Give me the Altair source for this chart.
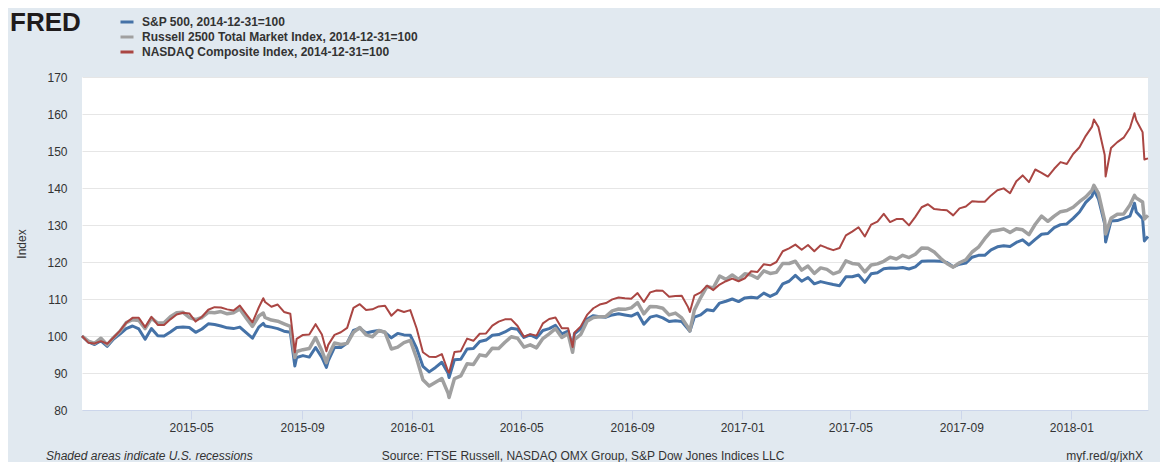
import altair as alt
import pandas as pd

# ---------------- data ----------------
dates = [
    "2014-12-31",
    "2015-01-07", "2015-01-14", "2015-01-21", "2015-01-28", "2015-02-04", "2015-02-11", "2015-02-18", "2015-02-25",
    "2015-03-04", "2015-03-11", "2015-03-18", "2015-03-25", "2015-04-01", "2015-04-08", "2015-04-15", "2015-04-22",
    "2015-04-29", "2015-05-06", "2015-05-13", "2015-05-20", "2015-05-27", "2015-06-03", "2015-06-10", "2015-06-17",
    "2015-06-24", "2015-07-01", "2015-07-08", "2015-07-15", "2015-07-20", "2015-07-22", "2015-07-29", "2015-08-05",
    "2015-08-12", "2015-08-19", "2015-08-24", "2015-08-26", "2015-09-02", "2015-09-09", "2015-09-16", "2015-09-23",
    "2015-09-28", "2015-09-30", "2015-10-07", "2015-10-14", "2015-10-21", "2015-10-28", "2015-11-04", "2015-11-11",
    "2015-11-18", "2015-11-25", "2015-12-02", "2015-12-09", "2015-12-16", "2015-12-23", "2015-12-30",
    "2016-01-06", "2016-01-13", "2016-01-20", "2016-01-27", "2016-02-03", "2016-02-10", "2016-02-11", "2016-02-17",
    "2016-02-24", "2016-03-02", "2016-03-09", "2016-03-16", "2016-03-23", "2016-03-30", "2016-04-06", "2016-04-13",
    "2016-04-20", "2016-04-27", "2016-05-04", "2016-05-11", "2016-05-18", "2016-05-25", "2016-06-01", "2016-06-08",
    "2016-06-15", "2016-06-22", "2016-06-27", "2016-06-29", "2016-07-06", "2016-07-13", "2016-07-20", "2016-07-27",
    "2016-08-03", "2016-08-10", "2016-08-17", "2016-08-24", "2016-08-31", "2016-09-07", "2016-09-14", "2016-09-21",
    "2016-09-28", "2016-10-05", "2016-10-12", "2016-10-19", "2016-10-26", "2016-11-02", "2016-11-04", "2016-11-09",
    "2016-11-16", "2016-11-23", "2016-11-30", "2016-12-07", "2016-12-14", "2016-12-21", "2016-12-28",
    "2017-01-04", "2017-01-11", "2017-01-18", "2017-01-25", "2017-02-01", "2017-02-08", "2017-02-15", "2017-02-22",
    "2017-03-01", "2017-03-08", "2017-03-15", "2017-03-22", "2017-03-29", "2017-04-05", "2017-04-12", "2017-04-19",
    "2017-04-26", "2017-05-03", "2017-05-10", "2017-05-17", "2017-05-24", "2017-05-31", "2017-06-07", "2017-06-14",
    "2017-06-21", "2017-06-28", "2017-07-05", "2017-07-12", "2017-07-19", "2017-07-26", "2017-08-02", "2017-08-09",
    "2017-08-16", "2017-08-23", "2017-08-30", "2017-09-06", "2017-09-13", "2017-09-20", "2017-09-27", "2017-10-04",
    "2017-10-11", "2017-10-18", "2017-10-25", "2017-11-01", "2017-11-08", "2017-11-15", "2017-11-22", "2017-11-29",
    "2017-12-06", "2017-12-13", "2017-12-20", "2017-12-27",
    "2018-01-03", "2018-01-10", "2018-01-17", "2018-01-24", "2018-01-26", "2018-01-31", "2018-02-07", "2018-02-08",
    "2018-02-14", "2018-02-21", "2018-02-28", "2018-03-07", "2018-03-12", "2018-03-14", "2018-03-21", "2018-03-23",
    "2018-03-27",
]

sp500 = [
    100, 98.4, 97.7, 98.7, 97.2, 99.2, 100.5, 102.0, 102.7, 101.9, 99.1, 102.0, 100.1, 100.0, 101.1, 102.3, 102.4,
    102.3, 101.0, 101.9, 103.3, 103.1, 102.7, 102.2, 102.0, 102.4, 100.9, 99.4, 102.4, 103.4, 102.7, 102.4, 102.0,
    101.3, 101.0, 91.9, 94.2, 94.7, 94.3, 96.9, 94.2, 91.5, 93.3, 96.9, 96.9, 98.1, 101.5, 102.1, 100.8, 101.2,
    101.5, 101.0, 99.5, 100.7, 100.3, 100.2,
    96.7, 91.8, 90.3, 91.5, 92.9, 89.9, 88.8, 93.6, 93.7, 96.5, 96.6, 98.5, 98.9, 100.2, 100.4, 101.1, 102.1, 101.8,
    99.6, 100.3, 99.5, 101.5, 102.0, 102.9, 100.6, 101.3, 97.2, 100.6, 102.0, 104.5, 105.5, 105.2, 105.1, 105.7,
    106.0, 105.7, 105.4, 106.2, 103.2, 105.1, 105.5, 104.9, 103.9, 104.1, 103.9, 101.9, 101.3, 105.1, 105.7, 107.1,
    106.8, 108.9, 109.4, 110.0, 109.3,
    110.3, 110.5, 110.3, 111.6, 110.7, 111.5, 114.1, 114.8, 116.4, 114.8, 115.8, 114.1, 114.7, 114.3, 113.9, 113.6,
    116.0, 116.0, 116.5, 114.5, 116.8, 117.1, 118.2, 118.4, 118.3, 118.5, 118.1, 118.7, 120.2, 120.3, 120.3, 120.2,
    119.9, 118.7, 119.4, 119.7, 121.3, 121.8, 121.8, 123.3, 124.1, 124.4, 124.2, 125.3, 126.0, 124.6, 126.1, 127.5,
    127.7, 129.3, 130.1, 130.3,
    131.8, 133.5, 136.1, 137.8, 139.5, 137.1, 130.2, 125.4, 131.1, 131.2, 131.8, 132.4, 135.9, 133.5, 131.7, 125.7,
    126.9,
]

russell2500 = [
    100, 98.6, 98.0, 99.4, 97.6, 99.6, 101.2, 103.6, 104.4, 104.2, 102.0, 104.8, 103.5, 103.6, 105.2, 106.3, 106.4,
    105.0, 104.4, 105.0, 106.4, 106.3, 106.6, 106.0, 106.3, 107.3, 104.9, 102.6, 105.4, 106.2, 105.0, 104.3, 104.0,
    103.3, 102.6, 94.2, 95.8, 96.3, 96.6, 99.6, 96.0, 92.8, 94.6, 98.1, 97.7, 98.0, 101.0, 102.3, 100.3, 99.8,
    101.5, 101.0, 96.5, 97.0, 98.2, 98.8,
    94.0, 88.2, 86.5, 87.5, 88.5, 84.5, 83.4, 88.5, 89.2, 92.5, 92.3, 94.9, 94.6, 96.7, 96.6, 98.3, 99.8, 99.4,
    97.0, 97.6, 96.8, 99.3, 100.6, 102.0, 99.6, 100.6, 95.6, 99.0, 100.4, 104.0, 105.0, 105.2, 105.3, 106.8,
    107.3, 107.2, 107.6, 109.0, 106.0, 108.0, 107.9, 107.5, 105.7, 106.2, 104.9, 102.3, 101.4, 107.0, 110.4, 113.4,
    113.0, 116.2, 115.3, 116.5, 115.3,
    116.8, 116.5, 115.6, 117.6, 116.9, 117.2, 119.6, 119.6, 120.2, 117.8, 118.9, 116.9, 118.4, 118.0, 116.8, 117.4,
    120.3, 119.6, 119.4, 117.3, 119.2, 119.5, 120.2, 121.3, 120.8, 121.8, 121.2, 122.1, 123.8, 123.7, 122.7, 121.0,
    119.6, 118.6, 119.8, 120.6, 122.7, 124.0, 126.3, 128.3, 128.6, 128.9, 128.0, 129.0, 128.7, 127.4, 130.2, 132.4,
    131.0, 132.4, 133.6, 133.9,
    134.8, 136.3, 137.6, 139.4, 140.7, 138.6, 131.2, 127.6, 131.8, 132.9, 133.0, 135.4, 138.0, 137.3, 136.2, 131.6,
    132.6,
]

nasdaq = [
    100, 98.2, 98.0, 98.6, 97.9, 99.6, 101.4, 103.6, 104.9, 104.9, 102.4, 105.2, 103.0, 103.0, 104.5, 105.8, 106.3,
    106.1, 103.9, 105.2, 107.1, 107.8, 107.7, 107.2, 106.9, 108.2, 105.9, 103.7, 107.7, 110.2, 109.2, 107.9, 108.5,
    106.5, 106.0, 95.6, 99.2, 100.3, 100.4, 103.2, 100.4, 95.9, 97.6, 100.3, 101.0, 102.2, 107.6, 108.6, 107.0, 107.2,
    108.0, 108.2, 105.5, 107.1, 106.5, 107.0,
    102.1, 95.6, 94.4, 94.3, 95.1, 90.4, 90.1, 95.7, 95.9, 99.3, 98.7, 100.6, 100.7, 102.8, 103.9, 104.5, 104.5, 102.7,
    99.8, 100.5, 100.1, 103.4, 104.6, 105.0, 102.1, 102.1, 97.0, 100.9, 102.6, 105.7, 107.5, 108.5, 108.9, 109.9,
    110.4, 110.2, 110.1, 111.6, 109.2, 111.8, 112.3, 112.2, 110.6, 110.8, 110.9, 107.8, 106.5, 110.9, 111.8, 113.6,
    112.4, 113.9, 114.8, 115.5, 114.8,
    115.6, 117.5, 117.3, 119.4, 119.1, 120.0, 122.9, 123.7, 124.7, 123.3, 124.6, 122.9, 124.5, 123.8, 123.2, 123.8,
    127.2, 128.2, 129.4, 126.9, 130.1, 130.9, 133.0, 130.8, 131.6, 131.6, 129.9, 132.2, 134.8, 135.6, 134.3, 134.1,
    134.0, 132.6, 134.5, 135.0, 136.4, 136.3, 136.3, 138.0, 139.4, 139.9, 138.6, 141.8, 143.4, 141.6, 145.0, 144.1,
    143.1, 145.2, 147.0, 146.5,
    149.2, 151.0, 154.1, 156.6, 158.5, 156.5, 148.9, 143.1, 150.8, 152.4, 153.6, 156.2, 160.2, 158.3, 155.1, 147.7,
    148.0,
]

series_names = [
    "S&P 500, 2014-12-31=100",
    "Russell 2500 Total Market Index, 2014-12-31=100",
    "NASDAQ Composite Index, 2014-12-31=100",
]
series_colors = ["#4572a7", "#a0a0a0", "#aa4643"]
series_widths = [3, 3.5, 2]

y_ticks = [80, 90, 100, 110, 120, 130, 140, 150, 160, 170]
x_ticks = [(2015, 5), (2015, 9), (2016, 1), (2016, 5), (2016, 9), (2017, 1), (2017, 5), (2017, 9), (2018, 1)]

assert len(dates) == len(sp500) == len(russell2500) == len(nasdaq)

rows = []
for name, vals in zip(series_names, [sp500, russell2500, nasdaq]):
    for d, v in zip(dates, vals):
        rows.append({"date": d, "series": name, "value": v})
df = pd.DataFrame(rows)

# ---------------- layout ----------------
PLOT_W, PLOT_H = 1066, 333
FONT = "Liberation Sans"
TXT = "#333333"

color_enc = alt.Color(
    "series:N",
    scale=alt.Scale(domain=series_names, range=series_colors),
    legend=alt.Legend(
        title=None, orient="none", legendX=37, legendY=-63, direction="vertical",
        symbolType="stroke", symbolStrokeWidth=3, symbolSize=169,
        labelFont=FONT, labelFontWeight="bold", labelFontSize=12, labelColor=TXT,
        labelOffset=7, rowPadding=1, padding=0, labelLimit=600,
    ),
)

x_enc = alt.X(
    "date:T",
    scale=alt.Scale(
        type="utc",
        domain=[alt.DateTime(year=2014, month=12, date=31, utc=True),
                alt.DateTime(year=2018, month=3, date=27, utc=True)],
    ),
    axis=alt.Axis(
        title=None, values=[alt.DateTime(year=y, month=m, date=1, utc=True) for y, m in x_ticks],
        labelExpr="utcFormat(datum.value, '%Y-%m')", grid=False,
        domainColor="#ccd6eb", tickColor="#ccd6eb", tickSize=9, labelPadding=3,
        labelFont=FONT, labelFontSize=12, labelColor=TXT,
    ),
)
y_enc = alt.Y(
    "value:Q",
    scale=alt.Scale(domain=[80, 170], nice=False, zero=False),
    axis=alt.Axis(
        title="Index", values=y_ticks, grid=True, gridColor="#e6e6e6", domain=False,
        ticks=False, tickSize=0, labelPadding=15, labelFont=FONT, labelFontSize=12, labelColor=TXT,
        titleFont=FONT, titleFontSize=12, titleFontWeight="normal", titleColor=TXT, titlePadding=18,
    ),
)

layers = []
for name, w in zip(series_names, series_widths):
    layers.append(
        alt.Chart(df).transform_filter(alt.datum.series == name)
        .mark_line(strokeWidth=w, strokeJoin="round")
        .encode(x=x_enc, y=y_enc, color=color_enc)
    )

logo = alt.Chart(pd.DataFrame({"t": ["FRED"]})).mark_text(
    font=FONT, fontSize=26, fontWeight="bold", color="#1f1b1c", align="left", baseline="top"
).encode(text="t:N", x=alt.value(-72), y=alt.value(-67))

note_left = alt.Chart(pd.DataFrame({"t": ["Shaded areas indicate U.S. recessions"]})).mark_text(
    font=FONT, fontSize=12, fontStyle="italic", color=TXT, align="left", baseline="middle"
).encode(text="t:N", x=alt.value(-36), y=alt.value(379))

note_mid = alt.Chart(pd.DataFrame({"t": ["Source: FTSE Russell, NASDAQ OMX Group, S&P Dow Jones Indices LLC"]})).mark_text(
    font=FONT, fontSize=12, color=TXT, align="center", baseline="middle"
).encode(text="t:N", x=alt.value(501), y=alt.value(379))

note_right = alt.Chart(pd.DataFrame({"t": ["myf.red/g/jxhX"]})).mark_text(
    font=FONT, fontSize=12, color=TXT, align="right", baseline="middle"
).encode(text="t:N", x=alt.value(1061), y=alt.value(379))

chart = alt.layer(*layers, logo, note_left, note_mid, note_right).properties(
    width=PLOT_W, height=PLOT_H,
    autosize=alt.AutoSizeParams(type="none"),
    padding={"left": 74, "top": 69, "right": 12, "bottom": 52},
    background="#e1e9f0",
    view=alt.ViewBackground(fill="white", stroke=None, strokeWidth=0),
).configure(font=FONT)

chart.save("out.html", embed_options={"renderer": "svg", "actions": False})
